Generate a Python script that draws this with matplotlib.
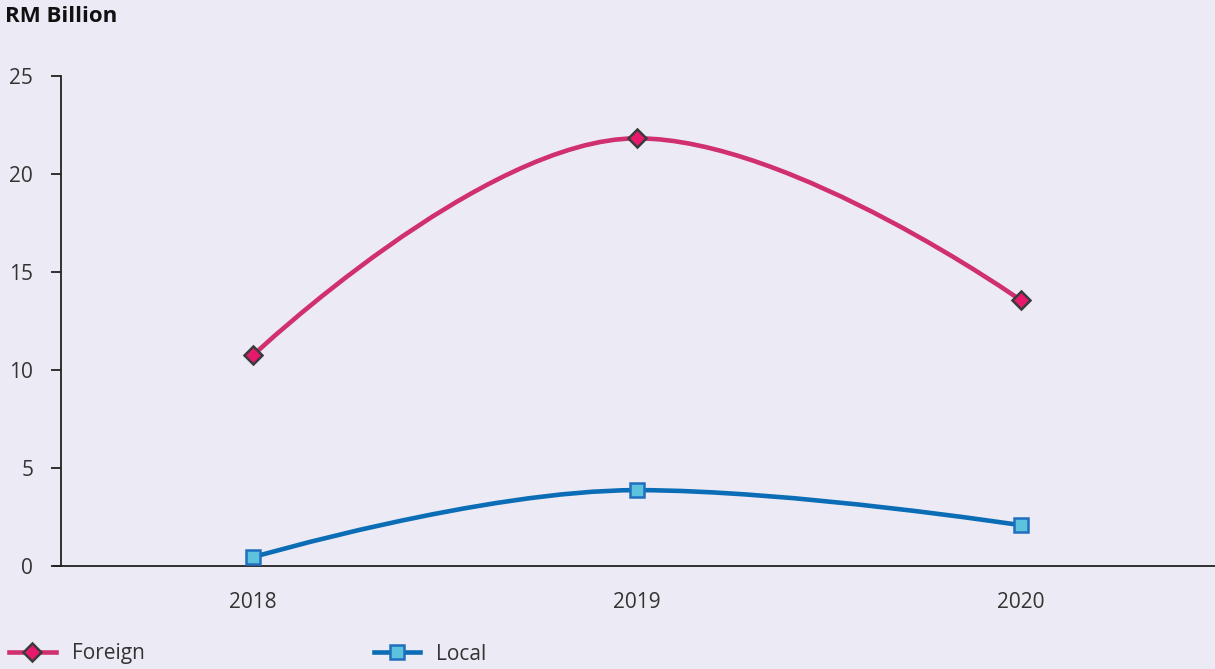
import numpy as np
import matplotlib
matplotlib.use("Agg")
import matplotlib.pyplot as plt
from matplotlib.path import Path
from matplotlib.patches import PathPatch
from matplotlib.lines import Line2D

years = ["2018", "2019", "2020"]
foreign = [10.75, 21.82, 13.55]
local = [0.45, 3.87, 2.08]
y_ticks = [0, 5, 10, 15, 20, 25]

BG = "#ECEBF5"
FOREIGN_LINE = "#D0306F"
FOREIGN_FILL = "#E8196D"
FOREIGN_EDGE = "#3B3B3B"
LOCAL_LINE = "#0B6DB5"
LOCAL_FILL = "#5DC3DC"
LOCAL_EDGE = "#1F6FBF"

plt.rcParams["font.family"] = ["Open Sans", "DejaVu Sans"]

fig = plt.figure(figsize=(12.15, 6.69), dpi=100, facecolor=BG)
ax = fig.add_axes([61 / 1215, (669 - 566) / 669, 1 - 61 / 1215, (566 - 76) / 669])
ax.set_facecolor(BG)


def spline_path(xs, ys, smoothing=1.5):
    """Highcharts-style spline from data points."""
    n = len(xs)
    left = [None] * n
    right = [None] * n
    denom = smoothing + 1
    for i in range(1, n - 1):
        px, py = xs[i], ys[i]
        lx, ly = xs[i - 1], ys[i - 1]
        nx, ny = xs[i + 1], ys[i + 1]
        lcx = (smoothing * px + lx) / denom
        lcy = (smoothing * py + ly) / denom
        rcx = (smoothing * px + nx) / denom
        rcy = (smoothing * py + ny) / denom
        corr = (rcy - lcy) * (rcx - px) / (rcx - lcx) + py - rcy
        lcy += corr
        rcy += corr
        if lcy > ly and lcy > py:
            lcy = max(ly, py)
            rcy = 2 * py - lcy
        elif lcy < ly and lcy < py:
            lcy = min(ly, py)
            rcy = 2 * py - lcy
        if rcy > ny and rcy > py:
            rcy = max(ny, py)
            lcy = 2 * py - rcy
        elif rcy < ny and rcy < py:
            rcy = min(ny, py)
            lcy = 2 * py - rcy
        left[i] = (lcx, lcy)
        right[i] = (rcx, rcy)
    verts = [(xs[0], ys[0])]
    codes = [Path.MOVETO]
    for i in range(1, n):
        c1 = right[i - 1] if right[i - 1] is not None else (xs[i - 1], ys[i - 1])
        c2 = left[i] if left[i] is not None else (xs[i], ys[i])
        verts += [c1, c2, (xs[i], ys[i])]
        codes += [Path.CURVE4] * 3
    return Path(verts, codes)


x = np.arange(len(years))
for vals, lc in [(foreign, FOREIGN_LINE), (local, LOCAL_LINE)]:
    p = spline_path(list(x), list(vals))
    ax.add_patch(PathPatch(p, facecolor="none", edgecolor=lc, lw=3.3,
                           capstyle="round", zorder=2))

ax.plot(x, foreign, linestyle="none", marker="D", ms=9.5, mfc=FOREIGN_FILL,
        mec=FOREIGN_EDGE, mew=1.8, zorder=3)
ax.plot(x, local, linestyle="none", marker="s", ms=10, mfc=LOCAL_FILL,
        mec=LOCAL_EDGE, mew=1.8, zorder=3)

ax.set_xlim(-0.5, 2.505)
ax.set_ylim(0, 25)
ax.set_xticks(x)
ax.set_xticklabels(years)
ax.set_yticks(y_ticks)
ax.tick_params(axis="x", length=0, pad=19, labelsize=15, labelcolor="#333333")
ax.tick_params(axis="y", length=7, width=1.3, pad=13, labelsize=15,
               labelcolor="#333333", color="#222222")
for s in ["top", "right"]:
    ax.spines[s].set_visible(False)
for s in ["left", "bottom"]:
    ax.spines[s].set_color("#222222")
    ax.spines[s].set_linewidth(1.3)
ax.spines["bottom"].set_bounds(-0.5 - 7 / 384 * 1, 2.505)
ax.spines["bottom"].set_clip_on(False)

fig.text(5 / 1215, 1 - 17 / 669, "RM Billion", fontsize=16, fontweight="bold",
         color="#111111", va="center", ha="left")

handles = [
    Line2D([], [], color=FOREIGN_LINE, lw=3.3, marker="D", ms=9.5,
           mfc=FOREIGN_FILL, mec=FOREIGN_EDGE, mew=1.8),
    Line2D([], [], color=LOCAL_LINE, lw=3.3, marker="s", ms=10,
           mfc=LOCAL_FILL, mec=LOCAL_EDGE, mew=1.8),
]
fig.legend(handles, ["Foreign", "Local"], loc="center left",
           bbox_to_anchor=(9 / 1215, 1 - 654 / 669), ncol=2, frameon=False,
           fontsize=15, handlelength=2.25, handletextpad=0.75,
           columnspacing=11.0, borderpad=0, borderaxespad=0,
           labelcolor="#333333")

fig.savefig("out.png", dpi=100, facecolor=BG)
